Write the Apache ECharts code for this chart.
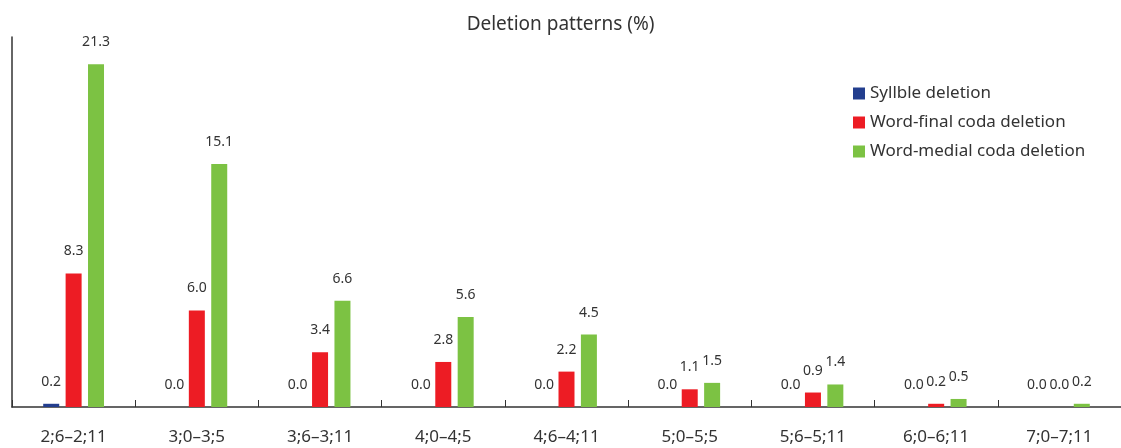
<!DOCTYPE html>
<html>
<head>
<meta charset="utf-8">
<script src="https://cdn.jsdelivr.net/npm/echarts@6/dist/echarts.min.js"></script>
<style>
  html, body { margin: 0; padding: 0; background: #fff; }
  #chart { width: 1121px; height: 448px; }
</style>
</head>
<body>
<div id="chart"></div>
<script>
// age groups on the x axis
const ageGroups = ['2;6–2;11', '3;0–3;5', '3;6–3;11', '4;0–4;5', '4;6–4;11', '5;0–5;5', '5;6–5;11', '6;0–6;11', '7;0–7;11']
const syllableDeletion = [0.2, 0.0, 0.0, 0.0, 0.0, 0.0, 0.0, 0.0, 0.0]
const finalCodaDeletion = [8.3, 6.0, 3.4, 2.8, 2.2, 1.1, 0.9, 0.2, 0.0]
const medialCodaDeletion = [21.3, 15.1, 6.6, 5.6, 4.5, 1.5, 1.4, 0.5, 0.2]

const font = '"Noto Sans", sans-serif'
const textColor = '#333'

const myChart = echarts.init(document.getElementById('chart'))

function barSeries(name, data, color) {
  return {
    name: name,
    type: 'bar',
    data: data,
    barWidth: 16,
    barGap: '40%',
    itemStyle: { color: color },
    label: {
      show: true,
      position: 'top',
      distance: 15,
      color: textColor,
      fontFamily: font,
      fontSize: 14,
      formatter: p => p.value.toFixed(1)
    }
  }
}

const options = {
  backgroundColor: '#fff',
  animation: false,
  title: {
    text: 'Deletion patterns (%)',
    left: 'center',
    top: 10,
    textStyle: {
      color: textColor,
      fontFamily: font,
      fontSize: 19,
      fontWeight: 'normal'
    }
  },
  legend: {
    orient: 'vertical',
    left: 848,
    top: 80,
    icon: 'rect',
    itemWidth: 12,
    itemHeight: 12,
    itemGap: 12,
    textStyle: { color: textColor, fontFamily: font, fontSize: 17 },
    data: ['Syllble deletion', 'Word-final coda deletion', 'Word-medial coda deletion']
  },
  grid: {
    left: 12,
    top: 37,
    width: 1116,
    bottom: 41
  },
  xAxis: {
    type: 'category',
    data: ageGroups,
    axisLine: { lineStyle: { color: '#333', width: 1.5 } },
    axisTick: { show: true, inside: true, length: 7, lineStyle: { color: '#333' } },
    axisLabel: {
      color: textColor,
      fontFamily: font,
      fontSize: 17,
      margin: 22
    }
  },
  yAxis: {
    type: 'value',
    min: 0,
    max: 23,
    axisLine: { show: true, lineStyle: { color: '#333', width: 1.5 } },
    axisTick: { show: false },
    axisLabel: { show: false },
    splitLine: { show: false }
  },
  series: [
    barSeries('Syllble deletion', syllableDeletion, '#233e8e'),
    barSeries('Word-final coda deletion', finalCodaDeletion, '#ed1c24'),
    barSeries('Word-medial coda deletion', medialCodaDeletion, '#7cc243')
  ]
}

myChart.setOption(options)
</script>
</body>
</html>
